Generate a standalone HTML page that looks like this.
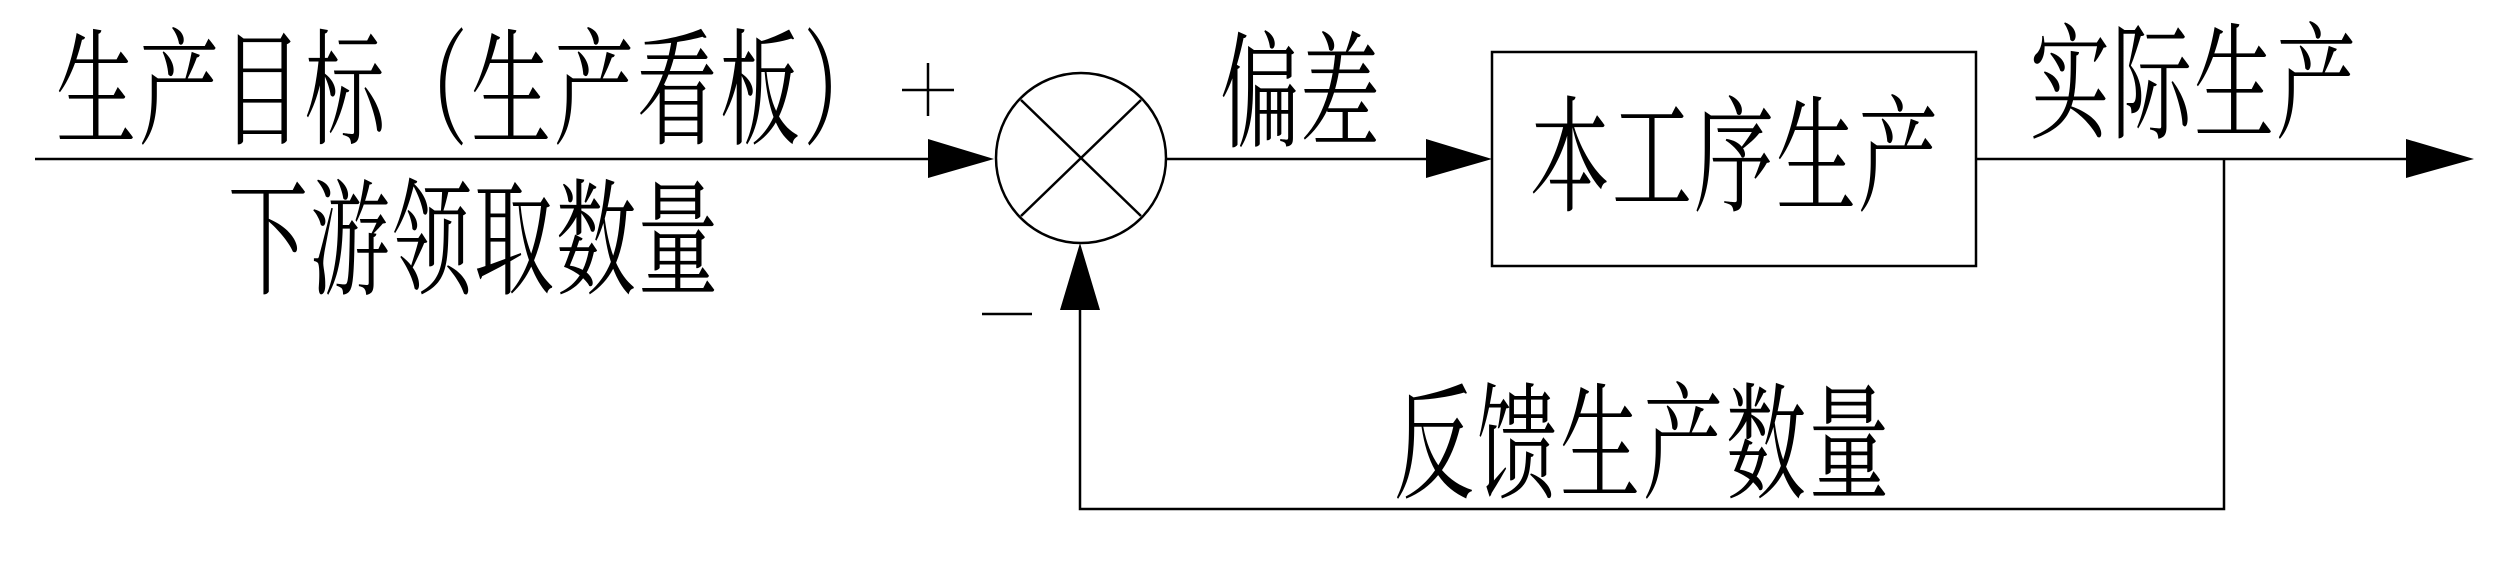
<!DOCTYPE html>
<html><head><meta charset="utf-8"><style>
html,body{margin:0;padding:0;background:#fff;}
#c{position:relative;width:2500px;height:583px;overflow:hidden;background:#fff;}
svg{position:absolute;left:0;top:0;}
.t{position:absolute;white-space:nowrap;font-family:"Liberation Serif","Noto Serif CJK SC",serif;font-size:80px;line-height:1;color:#000;transform-origin:0 0;transform:scale(1,1.58);}
</style></head><body><div id="c">
<svg width="2500" height="583" viewBox="0 0 2500 583">
<g stroke="#000" stroke-width="2.5" fill="none">
<line x1="35" y1="159" x2="930" y2="159"/>
<ellipse cx="1081" cy="158" rx="85" ry="85"/>
<line x1="1021" y1="100" x2="1141" y2="216"/>
<line x1="1141" y1="100" x2="1021" y2="216"/>
<line x1="1166" y1="159" x2="1430" y2="159"/>
<rect x="1492" y="52" width="484" height="214"/>
<line x1="1976" y1="159" x2="2410" y2="159"/>
<polyline points="2224,159 2224,509 1080,509 1080,305"/>
<line x1="902" y1="90" x2="954" y2="90"/>
<line x1="928" y1="63" x2="928" y2="116"/>
<line x1="982" y1="314" x2="1032" y2="314"/>
</g>
<g fill="#000">
<polygon points="928,139 994,159 928,178"/>
<polygon points="1426,139 1492,159 1426,178"/>
<polygon points="2406,139 2474,159 2406,178"/>
<polygon points="1060,310 1080,243 1100,310"/>
</g>
</svg>
<div class="t" style="left:56px;top:30px;letter-spacing:3px;">生产目标（生产看板）</div>
<div class="t" style="left:228px;top:180px;letter-spacing:2px;">下游领取数量</div>
<div class="t" style="left:1220px;top:33px;">偏差</div>
<div class="t" style="left:1530px;top:97px;letter-spacing:2px;">本工序生产</div>
<div class="t" style="left:2030px;top:24px;letter-spacing:2px;">实际生产</div>
<div class="t" style="left:1394px;top:384px;letter-spacing:3px;">反馈生产数量</div>
</div></body></html>
